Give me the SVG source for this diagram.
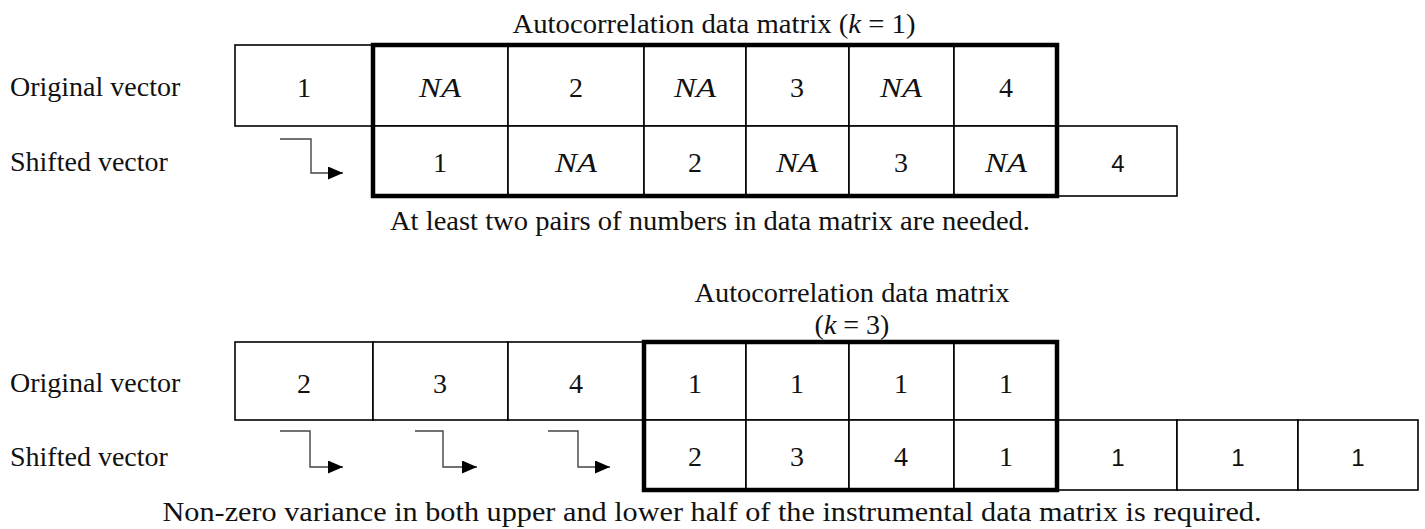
<svg xmlns="http://www.w3.org/2000/svg" width="1425" height="529" viewBox="0 0 1425 529">
  <style>
    .bg { fill: #ffffff; }
    .cell { fill: #ffffff; stroke: #000000; stroke-width: 1.6; }
    .box { fill: none; stroke: #000000; stroke-width: 4.5; }
    .t { font-family: "Liberation Serif", "Times New Roman", serif; font-size: 28px; fill: #111111; }
    .v { font-family: "Liberation Serif", "Times New Roman", serif; font-size: 28px; fill: #111111; text-anchor: middle; }
    .na { font-style: italic; }
    .s { font-family: "Liberation Sans", Arial, sans-serif; font-size: 24px; fill: #111111; text-anchor: middle; }
    .c { text-anchor: middle; }
    .arrow { fill: none; stroke: #444444; stroke-width: 1.4; marker-end: url(#head); }
  </style>
  <defs>
    <marker id="head" viewBox="0 0 15 13" refX="15" refY="6.5" markerWidth="15" markerHeight="13" markerUnits="userSpaceOnUse" orient="auto">
      <path d="M0,0 L15,6.5 L0,13 z" fill="#000000"/>
    </marker>
  </defs>
  <rect class="bg" x="0" y="0" width="1425" height="529"/>

  <!-- ===== Example 1 (k = 1) ===== -->
  <g id="title1">
    <text class="t c" x="714" y="33" textLength="403" lengthAdjust="spacingAndGlyphs">Autocorrelation data matrix (<tspan font-style="italic">k</tspan> = 1)</text>
  </g>
  <g id="label-orig-1"><text class="t" x="10" y="96">Original vector</text></g>
  <g id="label-shift-1"><text class="t" x="10" y="171">Shifted vector</text></g>

  <g id="o1-c1"><rect class="cell" x="235" y="45" width="138" height="81"/><text class="v" x="304" y="97">1</text></g>
  <g id="o1-c2"><rect class="cell" x="373" y="45" width="135" height="81"/><text class="v na" x="440" y="97" textLength="42" lengthAdjust="spacingAndGlyphs">NA</text></g>
  <g id="o1-c3"><rect class="cell" x="508" y="45" width="136" height="81"/><text class="v" x="576" y="97">2</text></g>
  <g id="o1-c4"><rect class="cell" x="644" y="45" width="102" height="81"/><text class="v na" x="695" y="97" textLength="42" lengthAdjust="spacingAndGlyphs">NA</text></g>
  <g id="o1-c5"><rect class="cell" x="746" y="45" width="103" height="81"/><text class="v" x="797" y="97">3</text></g>
  <g id="o1-c6"><rect class="cell" x="849" y="45" width="105" height="81"/><text class="v na" x="901" y="97" textLength="42" lengthAdjust="spacingAndGlyphs">NA</text></g>
  <g id="o1-c7"><rect class="cell" x="954" y="45" width="103" height="81"/><text class="v" x="1006" y="97">4</text></g>

  <g id="s1-c1"><rect class="cell" x="373" y="126" width="135" height="70"/><text class="v" x="440" y="172">1</text></g>
  <g id="s1-c2"><rect class="cell" x="508" y="126" width="136" height="70"/><text class="v na" x="576" y="172" textLength="42" lengthAdjust="spacingAndGlyphs">NA</text></g>
  <g id="s1-c3"><rect class="cell" x="644" y="126" width="102" height="70"/><text class="v" x="695" y="172">2</text></g>
  <g id="s1-c4"><rect class="cell" x="746" y="126" width="103" height="70"/><text class="v na" x="797" y="172" textLength="42" lengthAdjust="spacingAndGlyphs">NA</text></g>
  <g id="s1-c5"><rect class="cell" x="849" y="126" width="105" height="70"/><text class="v" x="901" y="172">3</text></g>
  <g id="s1-c6"><rect class="cell" x="954" y="126" width="103" height="70"/><text class="v na" x="1006" y="172" textLength="42" lengthAdjust="spacingAndGlyphs">NA</text></g>
  <g id="s1-c7"><rect class="cell" x="1057" y="126" width="120" height="70"/><text class="s" x="1118" y="172">4</text></g>

  <g id="matrix1"><rect class="box" x="373" y="45" width="684" height="151"/></g>

  <g id="caption1">
    <text class="t c" x="710" y="230" textLength="640" lengthAdjust="spacingAndGlyphs">At least two pairs of numbers in data matrix are needed.</text>
  </g>

  <!-- ===== Example 2 (k = 3) ===== -->
  <g id="title2">
    <text class="t c" x="852" y="302" textLength="315" lengthAdjust="spacingAndGlyphs">Autocorrelation data matrix</text>
    <text class="t c" x="852" y="334">(<tspan font-style="italic">k</tspan> = 3)</text>
  </g>
  <g id="label-orig-2"><text class="t" x="10" y="392">Original vector</text></g>
  <g id="label-shift-2"><text class="t" x="10" y="466">Shifted vector</text></g>

  <g id="o2-c1"><rect class="cell" x="235" y="342" width="138" height="78"/><text class="v" x="304" y="393">2</text></g>
  <g id="o2-c2"><rect class="cell" x="373" y="342" width="135" height="78"/><text class="v" x="440" y="393">3</text></g>
  <g id="o2-c3"><rect class="cell" x="508" y="342" width="136" height="78"/><text class="v" x="576" y="393">4</text></g>
  <g id="o2-c4"><rect class="cell" x="644" y="342" width="102" height="78"/><text class="v" x="695" y="393">1</text></g>
  <g id="o2-c5"><rect class="cell" x="746" y="342" width="103" height="78"/><text class="v" x="797" y="393">1</text></g>
  <g id="o2-c6"><rect class="cell" x="849" y="342" width="105" height="78"/><text class="v" x="901" y="393">1</text></g>
  <g id="o2-c7"><rect class="cell" x="954" y="342" width="103" height="78"/><text class="v" x="1006" y="393">1</text></g>

  <g id="s2-c1"><rect class="cell" x="644" y="420" width="102" height="70"/><text class="v" x="695" y="466">2</text></g>
  <g id="s2-c2"><rect class="cell" x="746" y="420" width="103" height="70"/><text class="v" x="797" y="466">3</text></g>
  <g id="s2-c3"><rect class="cell" x="849" y="420" width="105" height="70"/><text class="v" x="901" y="466">4</text></g>
  <g id="s2-c4"><rect class="cell" x="954" y="420" width="103" height="70"/><text class="v" x="1006" y="466">1</text></g>
  <g id="s2-c5"><rect class="cell" x="1057" y="420" width="120" height="70"/><text class="s" x="1118" y="466">1</text></g>
  <g id="s2-c6"><rect class="cell" x="1177" y="420" width="121" height="70"/><text class="s" x="1238" y="466">1</text></g>
  <g id="s2-c7"><rect class="cell" x="1298" y="420" width="120" height="70"/><text class="s" x="1358" y="466">1</text></g>

  <g id="matrix2"><rect class="box" x="644" y="342" width="413" height="148"/></g>

  <g id="caption2">
    <text class="t c" x="712" y="521" textLength="1099" lengthAdjust="spacingAndGlyphs">Non-zero variance in both upper and lower half of the instrumental data matrix is required.</text>
  </g>

  <!-- ===== Connectors (shift arrows) ===== -->
  <g id="connectors">
    <path class="arrow" d="M280,139 H311 V173 H343"/>
    <path class="arrow" d="M280,431 H310 V467 H343"/>
    <path class="arrow" d="M415,431 H443 V467 H477"/>
    <path class="arrow" d="M548,431 H578 V467 H610"/>
  </g>
</svg>
